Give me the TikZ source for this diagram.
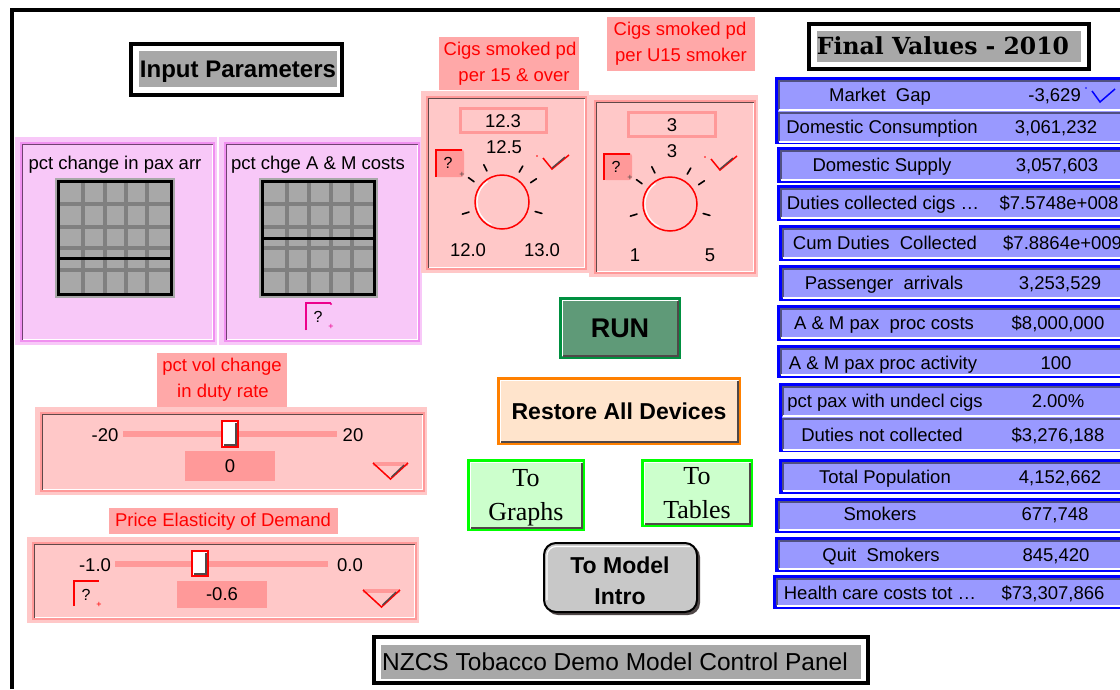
\documentclass[tikz,border=0pt]{standalone}
\usepackage{fontspec}
\setmainfont{Liberation Sans}
\newfontfamily\titleserif{DejaVu Serif}
\newfontfamily\handfont{Liberation Serif}

\definecolor{padpink}{HTML}{F8C8F8}
\definecolor{padedge}{HTML}{F090F0}
\definecolor{paddark}{HTML}{704070}
\definecolor{boxpink}{HTML}{FFC8C8}
\definecolor{labpink}{HTML}{FFA8A8}
\definecolor{deeppink}{HTML}{FF9999}
\definecolor{edgebrown}{HTML}{604848}
\definecolor{gridgray}{HTML}{A8A8A8}
\definecolor{gridline}{HTML}{808080}
\definecolor{rowfill}{HTML}{9999FF}
\definecolor{rowblue}{HTML}{0000FF}
\definecolor{rowdark}{HTML}{505080}
\definecolor{runfill}{HTML}{5F9A78}
\definecolor{runedge}{HTML}{009040}
\definecolor{restfill}{HTML}{FFE4CC}
\definecolor{restedge}{HTML}{FF8000}
\definecolor{navfill}{HTML}{CCFFCC}
\definecolor{navedge}{HTML}{00FF00}
\definecolor{introfill}{HTML}{C8C8C8}
\definecolor{titlegray}{HTML}{A8A8A8}
\definecolor{bevelgray}{HTML}{504848}

\newcommand\setfs[1]{\fontsize{#1}{#1}\selectfont}

% panel with an inset 3-D frame: x1 y1 x2 y2 fill edge dark
\newcommand\insetpanel[7]{%
  \fill[#5] (#1,#2) rectangle (#3,#4);
  \draw[#6,line width=1.5pt] (#1+6,#2+6) rectangle (#3-3,#4-4);
  \draw[#7,line width=1.5pt] (#1+7.5,#4-5.5) -- (#1+7.5,#2+7.5) -- (#3-4.5,#2+7.5);
  \draw[white,line width=1.5pt] (#3-4.5,#2+7.5) -- (#3-4.5,#4-5.5) -- (#1+7.5,#4-5.5);
}
% raised button: x1 y1 x2 y2 fill edge
\newcommand\raisedbtn[6]{%
  \fill[#5] (#1,#2) rectangle (#3,#4);
  \draw[#6,line width=2.5pt] (#1+1.25,#2+1.25) rectangle (#3-1.25,#4-1.25);
  \draw[white,line width=1.5pt] (#1+3.5,#4-3.5) -- (#1+3.5,#2+3.5) -- (#3-3.5,#2+3.5);
  \draw[bevelgray,line width=2pt] (#3-3.5,#2+3.5) -- (#3-3.5,#4-3.5) -- (#1+3.5,#4-3.5);
}
% blue outer box of a value row: x1 y1 y2
\newcommand\rowouter[3]{%
  \fill[rowfill] (#1,#2) rectangle (1125,#3);
  \draw[rowblue,line width=3pt] (#1+1.5,#2+1.5) rectangle (1125,#3-1.5);
}
% inner bevel of a value row: x1 y1 y2
\newcommand\rowinner[3]{%
  \draw[rowdark,line width=2pt] (#1,#3) -- (#1,#2) -- (1125,#2);
  \draw[white,line width=1.5pt] (#1,#3) -- (1125,#3);
}
% check mark: x y (left dot)
\newcommand\knobcheck[2]{%
  \fill[red] (#1,#2) circle (0.9);
  \draw[red,line width=1.5pt] (#1+6,#2+2) -- (#1+15,#2+13) -- (#1+32,#2-1);
  \draw[bevelgray,line width=1.3pt] (#1+15,#2+12) -- (#1+28,#2+1);
}
% drop-down marker: x1 y1 x2 y2
\newcommand\dropmark[4]{%
  \fill[deeppink] (#1,#2) rectangle (#3,#2+4);
  \draw[red,line width=1.5pt] (#1,#2+1) -- ({(#1+#3)/2},#4) -- (#3,#2+1);
  \draw[bevelgray,line width=1.3pt] ({(#1+#3)/2+1},#4-2) -- (#3-4,#2+3);
}
% help button with bracket and "?": x1 y1 x2 y2 colour
\newcommand\helpbracket[5]{%
  \draw[#5,line width=1.5pt] (#1+0.75,#4) -- (#1+0.75,#2+0.75) -- (#3,#2+0.75);
}

\tikzset{
  lab/.style={inner sep=0pt, text depth=0pt, font=\setfs{18.5}},
  redlab/.style={lab, text=red},
  boldlab/.style={inner sep=0pt, text depth=0pt, font=\bfseries\setfs{#1}},
  qmark/.style={inner sep=0pt, font=\setfs{16}},
  plusmark/.style={inner sep=0pt, font=\setfs{9}},
  navlab/.style={inner sep=0pt, text depth=0pt, font=\handfont\setfs{26}},
  knobtick/.style={line width=1.6pt, line cap=round},
  gridln/.style={gridline, line width=3.5pt},
}

\begin{document}
\begin{tikzpicture}[x=1pt,y=-1pt]
\useasboundingbox (0,0) rectangle (1120,689);
\clip (0,0) rectangle (1120,689);
\fill[white] (0,0) rectangle (1120,689);

% outer frame of the panel
\draw[line width=4pt] (11.5,689) -- (11.5,9.5) -- (1120,9.5);

% ---------- Input Parameters heading
\fill[titlegray] (139,51) rectangle (337,87);
\draw[line width=4pt] (131,44) rectangle (342,95);
\node[boldlab=24] (inp) at (238,69) {Input Parameters};

% ---------- graph pads
\insetpanel{15}{137}{217}{345}{padpink}{padedge}{paddark}
\insetpanel{219}{137}{422}{345}{padpink}{padedge}{paddark}
\node[lab] (pad1-t) at (115,163) {pct change in pax arr};
\node[lab] (pad2-t) at (318,163) {pct chge A \& M costs};

% pad 1 grid
\fill[gridgray] (55,178) rectangle (175,298);
\foreach \gx in {83,105,126,147} \draw[gridln] (\gx,183) -- (\gx,293);
\foreach \gy in {204,227,248,270} \draw[gridln] (60,\gy) -- (170,\gy);
\draw[line width=3pt] (58.5,258) -- (171.5,258);
\draw[line width=3pt] (58.5,181.5) rectangle (171.5,294.5);

% pad 2 grid
\fill[gridgray] (259,178) rectangle (378,298);
\foreach \gx in {287,309,331,352} \draw[gridln] (\gx,183) -- (\gx,293);
\foreach \gy in {204,227,248,270} \draw[gridln] (264,\gy) -- (373,\gy);
\draw[line width=3pt] (262.5,238) -- (374.5,238);
\draw[line width=3pt] (262.5,181.5) rectangle (374.5,294.5);

% pad 2 help marker
\helpbracket{305}{302}{331}{330}{magenta}
\fill[magenta] (331,304) circle (1.2) (306,329) circle (1.2);
\node[qmark] (pad2-q) at (318,317) {?};
\node[plusmark,text=magenta] (pad2-p) at (331,327) {+};

% ---------- knob 1
\fill[labpink] (439,37) rectangle (579,90);
\node[redlab] (k1-t1) at (510,49) {Cigs smoked pd};
\node[redlab] (k1-t2) at (514,75) {per 15 \& over};
\insetpanel{421}{91}{589}{273}{boxpink}{deeppink}{edgebrown}
\draw[deeppink,line width=3pt] (460.5,108.5) rectangle (546.5,132.5);
\node[lab] (k1-v) at (503,121) {12.3};
\node[lab] (k1-c) at (504,147) {12.5};
\fill[deeppink,rounded corners=3pt] (435,149) rectangle (464,177);
\helpbracket{435}{149}{462}{177}{red}
\node[qmark] (k1-q) at (448,163) {?};
\node[plusmark,text=bevelgray] (k1-p) at (462,175) {+};
\knobcheck{537}{156}
\coordinate (k1c) at (502,202);
\draw[red,line width=1.5pt] (k1c) circle (27);
\draw[white,line width=1.2pt] ([shift={(115:25)}]k1c) arc (115:235:25);
\foreach \a in {163,-144,-116,-60,-34,16}
  \draw[knobtick] ([shift={(\a:34.5)}]k1c) -- ([shift={(\a:41.5)}]k1c);
\node[lab] (k1-lo) at (468,250) {12.0};
\node[lab] (k1-hi) at (542,250) {13.0};

% ---------- knob 2
\fill[labpink] (607,17) rectangle (755,71);
\node[redlab] (k2-t1) at (680,29) {Cigs smoked pd};
\node[redlab] (k2-t2) at (681,55) {per U15 smoker};
\insetpanel{589}{95}{758}{277}{boxpink}{deeppink}{edgebrown}
\draw[deeppink,line width=3pt] (628.5,112.5) rectangle (715.5,136.5);
\node[lab] (k2-v) at (672,125) {3};
\node[lab] (k2-c) at (672,151) {3};
\fill[deeppink,rounded corners=3pt] (603,153) rectangle (632,180);
\helpbracket{603}{153}{630}{180}{red}
\node[qmark] (k2-q) at (616,167) {?};
\node[plusmark,text=bevelgray] (k2-p) at (630,178) {+};
\knobcheck{705}{157}
\coordinate (k2c) at (670,204);
\draw[red,line width=1.5pt] (k2c) circle (27);
\draw[white,line width=1.2pt] ([shift={(115:25)}]k2c) arc (115:235:25);
\foreach \a in {163,-144,-116,-60,-34,16}
  \draw[knobtick] ([shift={(\a:34.5)}]k2c) -- ([shift={(\a:41.5)}]k2c);
\node[lab] (k2-lo) at (635,255) {1};
\node[lab] (k2-hi) at (710,255) {5};

% ---------- slider 1
\fill[labpink] (157,353) rectangle (287,407);
\node[redlab] (s1-t1) at (222,365) {pct vol change};
\node[redlab] (s1-t2) at (223,391) {in duty rate};
\insetpanel{35}{407}{427}{495}{boxpink}{deeppink}{edgebrown}
\fill[deeppink] (123,431) rectangle (337,437);
\fill[white] (222,421) rectangle (238,447);
\draw[bevelgray,line width=2pt] (236,423) -- (236,445) -- (224,445);
\draw[red,line width=2pt] (222,421) rectangle (238,447);
\node[lab] (s1-lo) at (105,435) {-20};
\node[lab] (s1-hi) at (353,435) {20};
\fill[deeppink] (185,451) rectangle (275,481);
\node[lab] (s1-v) at (230,466) {0};
\dropmark{373}{462}{408}{479}

% ---------- slider 2
\fill[labpink] (109,508) rectangle (338,534);
\node[redlab] (s2-t) at (223,520) {Price Elasticity of Demand};
\insetpanel{27}{537}{419}{623}{boxpink}{deeppink}{edgebrown}
\fill[deeppink] (115,561) rectangle (328,567);
\fill[white] (192,551) rectangle (208,576);
\draw[bevelgray,line width=2pt] (206,553) -- (206,574) -- (194,574);
\draw[red,line width=2pt] (192,551) rectangle (208,576);
\node[lab] (s2-lo) at (95,565) {-1.0};
\node[lab] (s2-hi) at (350,565) {0.0};
\helpbracket{73}{580}{99}{606}{red}
\node[qmark] (s2-q) at (86,595) {?};
\node[plusmark,text=red] (s2-p) at (99,605) {+};
\fill[deeppink] (177,581) rectangle (267,608);
\node[lab] (s2-v) at (222,594) {-0.6};
\dropmark{363}{589}{400}{607}

% ---------- buttons
\raisedbtn{559}{297}{681}{359}{runfill}{runedge}
\node[boldlab=27] (run) at (620,328) {RUN};
\raisedbtn{497}{377}{741}{445}{restfill}{restedge}
\node[boldlab=23] (restore) at (619,411) {Restore All Devices};
\raisedbtn{467}{459}{585}{531}{navfill}{navedge}
\node[navlab] (graphs1) at (526,478) {To};
\node[navlab] (graphs2) at (526,511) {Graphs};
\raisedbtn{641}{459}{753}{527}{navfill}{navedge}
\node[navlab] (tables1) at (697,476) {To};
\node[navlab] (tables2) at (697,509) {Tables};
\fill[bevelgray,rounded corners=12pt] (546,545) rectangle (700,615);
\filldraw[fill=introfill,draw=black,line width=2pt,rounded corners=12pt] (544,543) rectangle (697,612);
\draw[white,line width=1.2pt,rounded corners=9pt] (547,600) -- (547,546.5) -- (690,546.5);
\node[boldlab=23] (intro1) at (620,565) {To Model};
\node[boldlab=23] (intro2) at (620,597) {Intro};

% ---------- Final Values heading
\fill[titlegray] (817,31) rectangle (1081,62);
\draw[line width=4pt] (809,24) rectangle (1089,69);
\node[inner sep=0pt,text depth=0pt,font=\titleserif\bfseries\setfs{23.5}] (fv) at (943,46) {Final Values - 2010};

% ---------- value rows
\rowouter{775}{77}{144}
\rowinner{779}{80.5}{110}
\rowinner{779}{112.5}{142}
\node[lab] (r1-l) at (880,95) {Market\ \ Gap};
\node[lab,anchor=east] (r1-v) at (1081,95) {-3,629};
\fill[rowblue] (1086,88) circle (0.9);
\draw[rowblue,line width=1.5pt] (1092,91) -- (1100,102) -- (1115,89);
\node[lab] (r2-l) at (882,127) {Domestic Consumption};
\node[lab] (r2-v) at (1056,127) {3,061,232};

\rowouter{777}{147}{183}
\rowinner{781}{150.5}{180}
\node[lab] (r3-l) at (882,165) {Domestic Supply};
\node[lab] (r3-v) at (1057,165) {3,057,603};

\rowouter{777}{185}{221}
\rowinner{781}{188.5}{218}
\node[lab] (r4-l) at (883,203) {Duties collected cigs …};
\node[lab] (r4-v) at (1059,203) {\$7.5748e+008};

\rowouter{779}{225}{261}
\rowinner{783}{228.5}{258}
\node[lab] (r5-l) at (885,243) {Cum Duties\ \ Collected};
\node[lab,anchor=west] (r5-v) at (1003,243) {\$7.8864e+009};

\rowouter{779}{265}{301}
\rowinner{783}{268.5}{298}
\node[lab] (r6-l) at (884,283) {Passenger\ \ arrivals};
\node[lab] (r6-v) at (1060,283) {3,253,529};

\rowouter{777}{305}{341}
\rowinner{781}{308.5}{338}
\node[lab] (r7-l) at (884,323) {A \& M pax\ \ proc costs};
\node[lab] (r7-v) at (1058,323) {\$8,000,000};

\rowouter{777}{345}{378}
\rowinner{781}{348.5}{375}
\node[lab] (r8-l) at (883,363) {A \& M pax proc activity};
\node[lab] (r8-v) at (1056,363) {100};

\rowouter{779}{383}{452}
\rowinner{783}{386.5}{416}
\rowinner{783}{419}{450}
\node[lab] (r9-l) at (885,401) {pct pax with undecl cigs};
\node[lab] (r9-v) at (1058,401) {2.00\%};
\node[lab] (r10-l) at (882,435) {Duties not collected};
\node[lab] (r10-v) at (1058,435) {\$3,276,188};

\rowouter{779}{459}{494}
\rowinner{783}{462.5}{491}
\node[lab] (r11-l) at (885,477) {Total Population};
\node[lab] (r11-v) at (1060,477) {4,152,662};

\rowouter{775}{498}{533}
\rowinner{779}{501.5}{530}
\node[lab] (r12-l) at (880,514) {Smokers};
\node[lab] (r12-v) at (1055,514) {677,748};

\rowouter{775}{537}{572}
\rowinner{779}{540.5}{569}
\node[lab] (r13-l) at (881,555) {Quit\ \ Smokers};
\node[lab] (r13-v) at (1056,555) {845,420};

\rowouter{773}{575}{609}
\rowinner{777}{578.5}{606}
\node[lab] (r14-l) at (880,593) {Health care costs tot …};
\node[lab] (r14-v) at (1053,593) {\$73,307,866};

% ---------- bottom caption
\fill[titlegray] (381,645) rectangle (861,679);
\draw[line width=4pt] (374,637) rectangle (868,683);
\node[inner sep=0pt,text depth=0pt,font=\setfs{24.5}] (caption) at (615,662) {NZCS Tobacco Demo Model Control Panel};
\end{tikzpicture}
\end{document}
